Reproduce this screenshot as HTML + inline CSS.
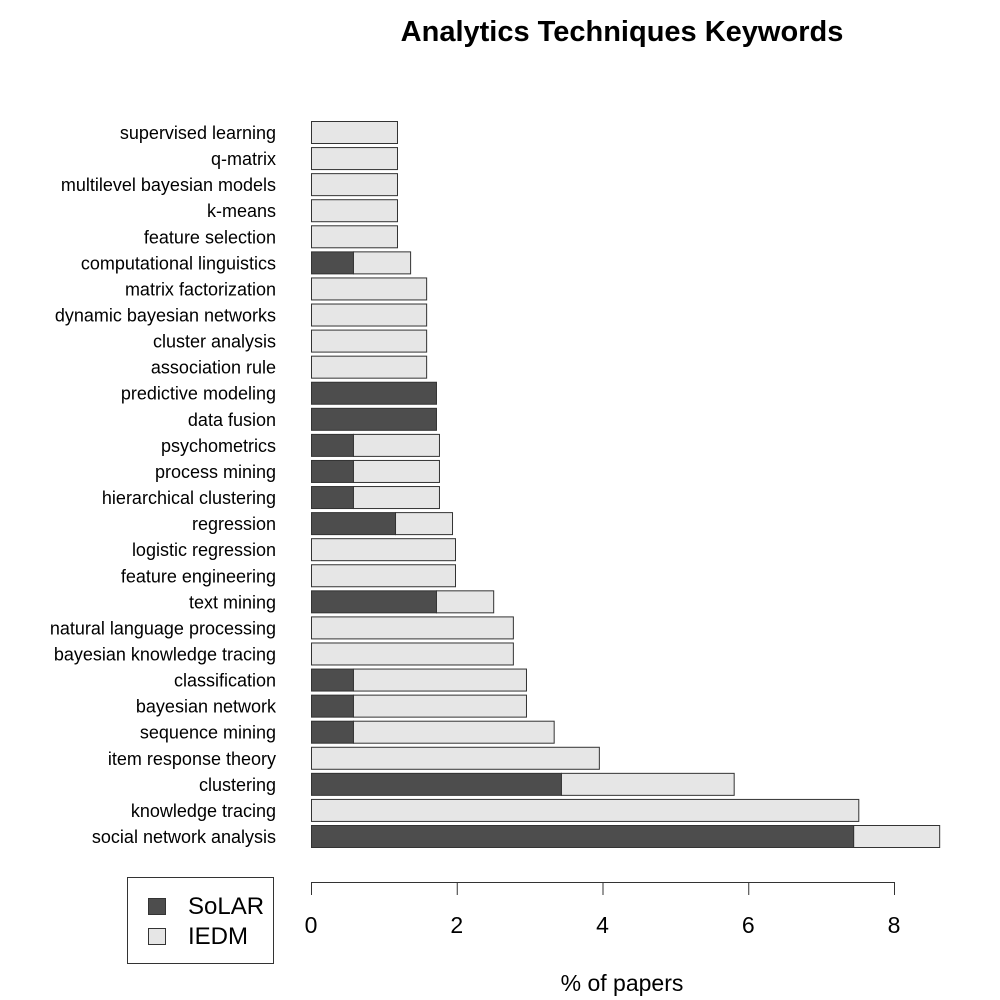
<!DOCTYPE html>
<html><head><meta charset="utf-8"><style>
html,body{margin:0;padding:0;background:#fff;}
svg{display:block;font-family:"Liberation Sans",sans-serif;}
</style></head><body>
<svg id="chart" width="1000" height="1000" viewBox="0 0 1000 1000">
<text x="622" y="41" text-anchor="middle" font-size="29" font-weight="bold">Analytics Techniques Keywords</text>
<g id="bars"></g>
<g id="labels"></g>
<g id="xaxis"></g>
<text x="622" y="991" text-anchor="middle" font-size="23">% of papers</text>
<g>
<rect x="127.5" y="877.5" width="146" height="86" fill="#fff" stroke="#333"/>
<rect x="148.5" y="898.5" width="17" height="16" fill="#4d4d4d" stroke="#333"/>
<text x="188" y="914" font-size="24">SoLAR</text>
<rect x="148.5" y="928.5" width="17" height="16" fill="#e6e6e6" stroke="#333"/>
<text x="188" y="944" font-size="24">IEDM</text>
</g>
</svg>
<script>
const categories = ["supervised learning","q-matrix","multilevel bayesian models","k-means","feature selection","computational linguistics","matrix factorization","dynamic bayesian networks","cluster analysis","association rule","predictive modeling","data fusion","psychometrics","process mining","hierarchical clustering","regression","logistic regression","feature engineering","text mining","natural language processing","bayesian knowledge tracing","classification","bayesian network","sequence mining","item response theory","clustering","knowledge tracing","social network analysis"];
const solar = [0,0,0,0,0,0.576,0,0,0,0,1.715,1.715,0.576,0.576,0.576,1.153,0,0,1.715,0,0,0.576,0.576,0.576,0,3.43,0,7.44];
const iedm = [1.18,1.18,1.18,1.18,1.18,0.784,1.58,1.58,1.58,1.58,0,0,1.18,1.18,1.18,0.782,1.976,1.976,0.785,2.77,2.77,2.374,2.374,2.754,3.95,2.37,7.51,1.18];
const ticks = [0,2,4,6,8];
const NS="http://www.w3.org/2000/svg";
const x0=311, x8=894;
function xs(v){return x0+(x8-x0)*v/8;}
function yc(i){return 132+i*(836-132)/(categories.length-1);}
const bars=document.getElementById('bars'), labels=document.getElementById('labels'), xaxis=document.getElementById('xaxis');
function mk(tag,attrs,parent){const e=document.createElementNS(NS,tag);for(const k in attrs)e.setAttribute(k,attrs[k]);parent.appendChild(e);return e;}
categories.forEach((c,i)=>{
  const y=yc(i)-11;
  if(solar[i]>0){
    const r=mk('rect',{x:xs(0)+0.5,y:y+0.5,width:xs(solar[i])-xs(0),height:22,fill:'#4d4d4d',stroke:'#333'},bars);
    
    
  }
  if(iedm[i]>0){
    const r=mk('rect',{x:xs(solar[i])+0.5,y:y+0.5,width:xs(solar[i]+iedm[i])-xs(solar[i]),height:22,fill:'#e6e6e6',stroke:'#333'},bars);
    
    
  }
  const t=mk('text',{x:276,y:yc(i)+7,'text-anchor':'end','font-size':18},labels);
  t.textContent=c;
  
  
});
const al=mk('line',{x1:xs(0),x2:xs(8),y1:882.5,y2:882.5,stroke:'#333'},xaxis);


ticks.forEach(v=>{
  const l=mk('line',{x1:xs(v)+0.5,x2:xs(v)+0.5,y1:882,y2:895,stroke:'#333'},xaxis);
  
  
  const t=mk('text',{x:xs(v),y:933,'text-anchor':'middle','font-size':23},xaxis);
  t.textContent=v;
  
  
});
</script>
</body></html>
